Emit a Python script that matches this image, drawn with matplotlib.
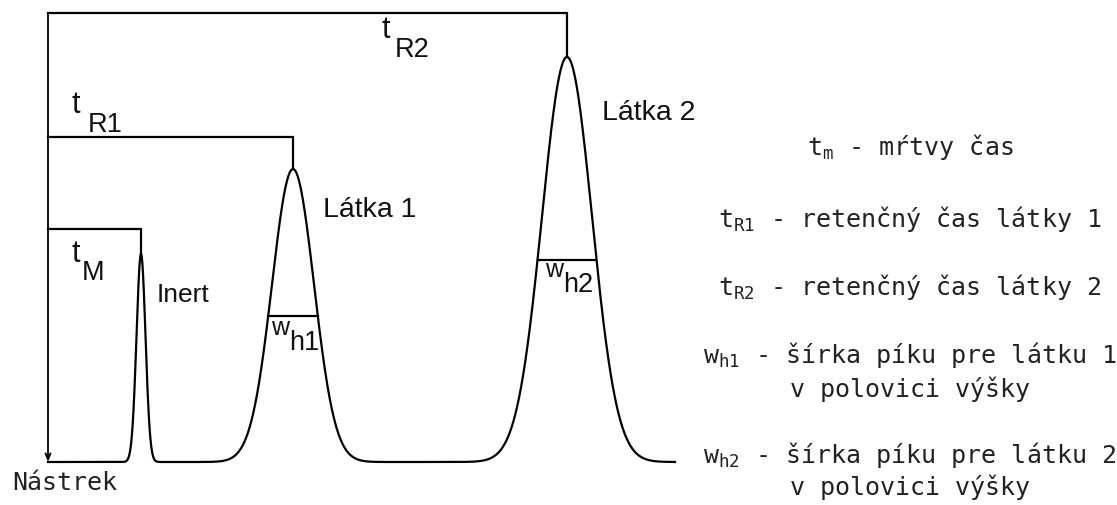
import numpy as np
import matplotlib
matplotlib.use("Agg")
import matplotlib.pyplot as plt

# ---- data (x: time axis, y: detector signal; baseline = 0) ----
peak_names = ["Inert", "Látka 1", "Látka 2"]
peak_times = [141, 293, 567]
peak_heights = [208, 293, 405]
peak_sigmas = [4.5, 21, 25]
bracket_levels = [233, 325, 449]          # t_M, t_R1, t_R2 bracket heights
bracket_labels = ["M", "R1", "R2"]
half_width_labels = ["h1", "h2"]
t_start, t_end = 48, 675                  # injection and end of record

legend_lines = [
    r"t$_{\mathtt{m}}$ - mŕtvy čas",
    r"t$_{\mathtt{R1}}$ - retenčný čas látky 1",
    r"t$_{\mathtt{R2}}$ - retenčný čas látky 2",
    r"w$_{\mathtt{h1}}$ - šírka píku pre látku 1",
    "v polovici výšky",
    r"w$_{\mathtt{h2}}$ - šírka píku pre látku 2",
    "v polovici výšky",
]

plt.rcParams["mathtext.fontset"] = "dejavusans"

W, H = 1117, 506
fig = plt.figure(figsize=(W / 100, H / 100), dpi=100)
ax = fig.add_axes([0, 0, 1, 1])
ax.set_xlim(0, W)
ax.set_ylim(-43, 463)
ax.axis("off")

lw = 1.6
# chromatogram
t = np.linspace(t_start, t_end, 3000)
signal = np.zeros_like(t)
for tc, h, s in zip(peak_times, peak_heights, peak_sigmas):
    signal += h * np.exp(-0.5 * ((t - tc) / s) ** 2)
ax.plot(t, signal, color="black", lw=lw, solid_joinstyle="miter")

# retention-time brackets
for tc, h, lev in zip(peak_times, peak_heights, bracket_levels):
    ax.plot([t_start, tc, tc], [lev, lev, h], color="black", lw=lw,
            solid_joinstyle="miter")

# injection arrow
ax.annotate("", xy=(t_start, 0), xytext=(t_start, max(bracket_levels)),
            arrowprops=dict(arrowstyle="->,head_length=0.45,head_width=0.18",
                            lw=1.3, color="black", shrinkA=0, shrinkB=0))

# half-height widths
fwhm_k = 2 * np.sqrt(2 * np.log(2))
for tc, h, s in zip(peak_times[1:], peak_heights[1:], peak_sigmas[1:]):
    hw = fwhm_k * s / 2
    ax.plot([tc - hw, tc + hw], [h / 2, h / 2], color="black", lw=lw)

sans = "Liberation Sans"
ink = "#111111"
# bracket labels (t + subscript)
lab_pos = [((71, 201), (82, 183)), ((71, 350), (88, 331)), ((381, 425), (395, 406))]
for (tp, sp), sub in zip(lab_pos, bracket_labels):
    ax.text(tp[0], tp[1], "t", family=sans, fontsize=22, color=ink, va="baseline")
    ax.text(sp[0], sp[1], sub, family=sans, fontsize=19.5, color=ink, va="baseline")

# peak labels
ax.text(157, 161, peak_names[0], family=sans, fontsize=19, color=ink, va="baseline")
ax.text(323, 246, peak_names[1], family=sans, fontsize=20.5, color=ink, va="baseline")
ax.text(602, 343, peak_names[2], family=sans, fontsize=20.5, color=ink, va="baseline")

# width labels
wpos = [((271, 128), (289, 113)), ((545, 186), (563, 171))]
for (wp, sp), sub in zip(wpos, half_width_labels):
    ax.text(wp[0], wp[1], "w", family=sans, fontsize=18, color=ink, va="baseline")
    ax.text(sp[0], sp[1], sub, family=sans, fontsize=19.5, color=ink, va="baseline")

mono = "DejaVu Sans Mono"
ax.text(12, 463 - 490, "Nástrek", family=mono, fontsize=18, color="#222222",
        va="baseline")

legend_baselines_px = [155, 227, 295, 363, 397, 463, 495]
for txt, yb in zip(legend_lines, legend_baselines_px):
    ax.text(910, 463 - yb, txt, family=mono, fontsize=18, color="#222222",
            ha="center", va="baseline")

fig.savefig("out.png", dpi=100, facecolor="white")
